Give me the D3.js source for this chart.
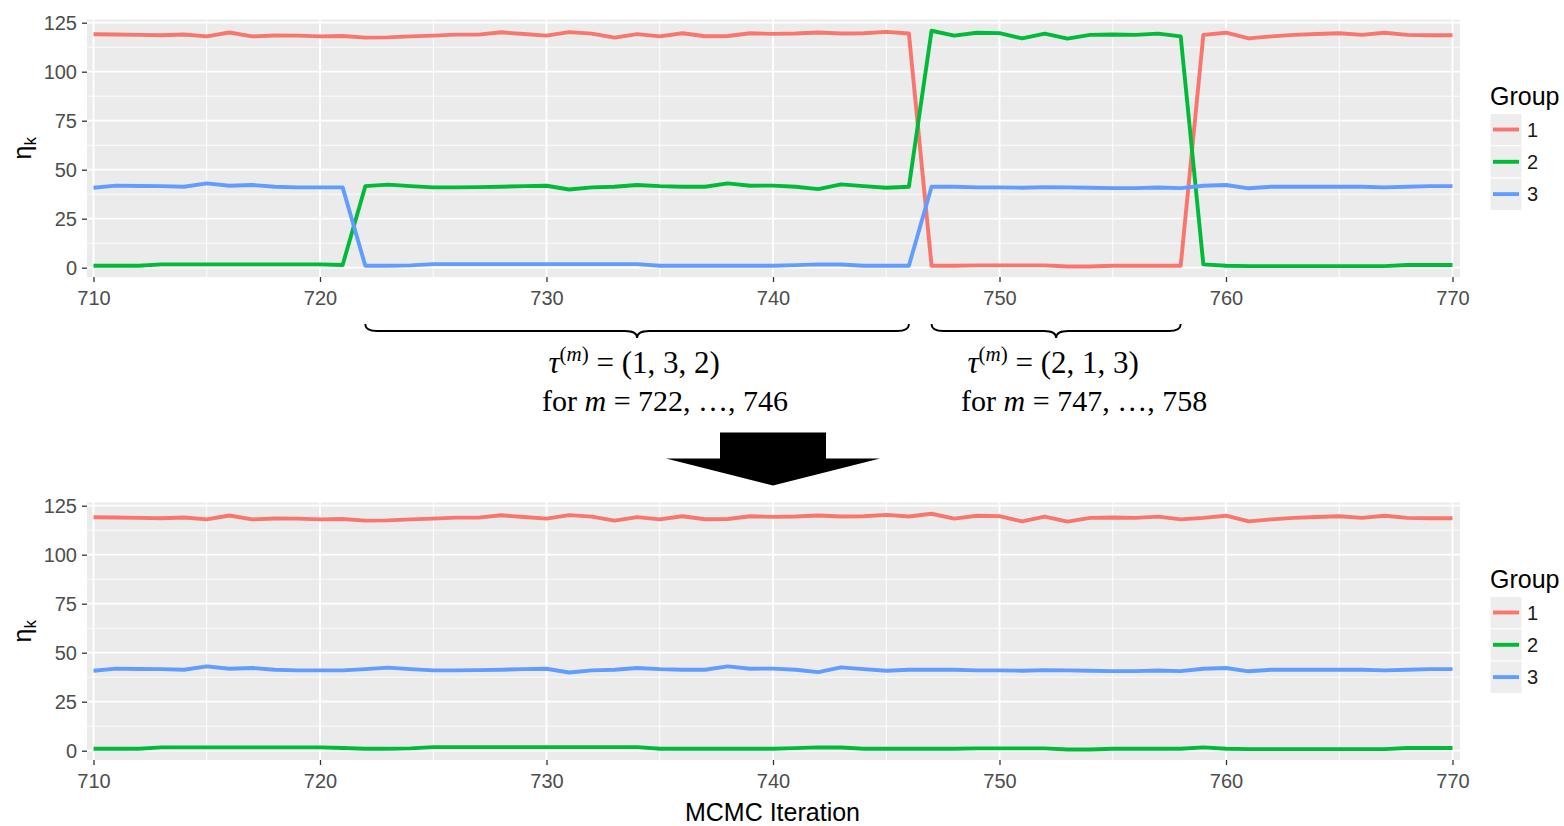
<!DOCTYPE html>
<html>
<head>
<meta charset="utf-8">
<script src="https://cdn.jsdelivr.net/npm/d3@7/dist/d3.min.js"></script>
<style>
  html, body { margin: 0; padding: 0; background: #ffffff; }
  svg { display: block; }
</style>
</head>
<body>
<svg id="chart" width="1564" height="826"></svg>
<script>
// MCMC iterations shown on the x axis
const iterations = d3.range(710, 771);

// Raw sampler output of eta_k for each group label (before relabelling)
const group1Raw = [
  119.1, 119.0, 118.8, 118.6, 119.0, 118.0, 120.0, 118.0, 118.5, 118.4, 118.0, 118.2,
  117.4, 117.5, 118.0, 118.4, 118.9, 118.9, 120.1, 119.2, 118.4, 120.2, 119.4, 117.4,
  119.2, 118.0, 119.6, 118.1, 118.2, 119.6, 119.3, 119.5, 120.0, 119.5, 119.6, 120.3, 119.5,
  1.0, 1.0, 1.2, 1.2, 1.2, 1.2, 0.6, 0.6, 1.0, 1.0, 1.0, 1.0,
  118.8, 119.9, 117.0, 118.0, 118.8, 119.2, 119.6, 118.8, 119.9, 118.8, 118.6, 118.6
];
const group2Raw = [
  1.0, 1.0, 1.0, 1.7, 1.7, 1.7, 1.7, 1.7, 1.7, 1.7, 1.7, 1.4,
  41.6, 42.4, 41.6, 41.0, 41.0, 41.1, 41.3, 41.6, 41.8, 39.9, 41.0, 41.3,
  42.2, 41.6, 41.3, 41.3, 43.0, 41.8, 41.9, 41.3, 40.1, 42.5, 41.6, 40.8, 41.3,
  120.9, 118.4, 119.9, 119.7, 117.0, 119.4, 116.9, 118.8, 119.0, 118.8, 119.4, 118.0,
  1.7, 1.0, 0.8, 0.8, 0.8, 0.8, 0.8, 0.8, 0.8, 1.4, 1.4, 1.4
];
const group3Raw = [
  40.8, 41.9, 41.7, 41.6, 41.3, 43.0, 41.8, 42.2, 41.3, 41.0, 41.0, 41.0,
  1.0, 1.0, 1.2, 1.8, 1.8, 1.8, 1.8, 1.8, 1.8, 1.8, 1.8, 1.8,
  1.8, 1.0, 1.0, 1.0, 1.0, 1.0, 1.0, 1.3, 1.7, 1.6, 1.0, 1.0, 1.0,
  41.3, 41.3, 41.0, 41.0, 40.8, 41.1, 41.0, 40.8, 40.6, 40.6, 40.9, 40.6,
  41.8, 42.2, 40.5, 41.3, 41.3, 41.3, 41.3, 41.3, 41.0, 41.3, 41.6, 41.6
];

// Label permutations tau^(m) found for runs of iterations
const tauFrom = [722, 747];
const tauTo = [746, 758];
const tauPerm = [[1, 3, 2], [2, 1, 3]];

// Axis ticks and legend entries
const xTicks = [710, 720, 730, 740, 750, 760, 770];
const xMinorTicks = [715, 725, 735, 745, 755, 765];
const yTicks = [0, 25, 50, 75, 100, 125];
const yMinorTicks = [12.5, 37.5, 62.5, 87.5, 112.5];
const groupLabels = ["1", "2", "3"];
const groupColors = ["#F8766D", "#00BA38", "#619CFF"];

// Relabelled output: raw label k at iteration m becomes tau^(m)(k)
const rawSeries = [group1Raw, group2Raw, group3Raw];
const relabelled = rawSeries.map(s => s.slice());
iterations.forEach((m, i) => {
  const r = tauFrom.findIndex((f, j) => m >= f && m <= tauTo[j]);
  if (r < 0) return;
  tauPerm[r].forEach((target, k) => { relabelled[target - 1][i] = rawSeries[k][i]; });
});

const svg = d3.select("#chart");
const sans = "'Liberation Sans', Arial, sans-serif";
const serif = "'Liberation Serif', 'Times New Roman', serif";

const panelLeft = 87, panelRight = 1460;
const x = d3.scaleLinear().domain([710, 770]).range([93.5, 1452.5]);

function drawPanel(top, series) {
  const bgTop = top, bgBottom = top + 257.5;
  const y = d3.scaleLinear().domain([0, 125]).range([top + 248.2, top + 3.2]);
  const g = svg.append("g");

  g.append("rect")
    .attr("x", panelLeft).attr("y", bgTop)
    .attr("width", panelRight - panelLeft).attr("height", bgBottom - bgTop)
    .attr("fill", "#EBEBEB");

  // minor then major grid
  g.selectAll(".ymin").data(yMinorTicks).join("line")
    .attr("x1", panelLeft).attr("x2", panelRight)
    .attr("y1", d => y(d)).attr("y2", d => y(d))
    .attr("stroke", "#fff").attr("stroke-width", 0.9);
  g.selectAll(".xmin").data(xMinorTicks).join("line")
    .attr("y1", bgTop).attr("y2", bgBottom)
    .attr("x1", d => x(d)).attr("x2", d => x(d))
    .attr("stroke", "#fff").attr("stroke-width", 0.9);
  g.selectAll(".ymaj").data(yTicks).join("line")
    .attr("x1", panelLeft).attr("x2", panelRight)
    .attr("y1", d => y(d)).attr("y2", d => y(d))
    .attr("stroke", "#fff").attr("stroke-width", 1.8);
  g.selectAll(".xmaj").data(xTicks).join("line")
    .attr("y1", bgTop).attr("y2", bgBottom)
    .attr("x1", d => x(d)).attr("x2", d => x(d))
    .attr("stroke", "#fff").attr("stroke-width", 1.8);

  // series lines
  const line = d3.line().x((d, i) => x(iterations[i])).y(d => y(d));
  series.forEach((s, k) => {
    g.append("path").datum(s)
      .attr("d", line)
      .attr("fill", "none")
      .attr("stroke", groupColors[k])
      .attr("stroke-width", 3.9)
      .attr("stroke-linejoin", "round");
  });

  // axes
  const yAxis = d3.axisLeft(y).tickValues(yTicks).tickSize(5).tickPadding(5);
  const ya = g.append("g").attr("transform", `translate(${panelLeft},0)`).call(yAxis);
  const xAxis = d3.axisBottom(x).tickValues(xTicks).tickSize(5).tickPadding(9).tickFormat(d3.format("d"));
  const xa = g.append("g").attr("transform", `translate(0,${bgBottom})`).call(xAxis);
  [ya, xa].forEach(a => {
    a.select(".domain").remove();
    a.selectAll(".tick line").attr("stroke", "#333").attr("stroke-width", 1.3);
    a.selectAll(".tick text").attr("fill", "#4D4D4D")
      .style("font-family", sans).style("font-size", "20px");
  });

  // y axis title: eta_k
  const yt = g.append("text")
    .attr("transform", `translate(31,${(bgTop + bgBottom) / 2}) rotate(-90)`)
    .attr("text-anchor", "middle")
    .style("font-family", sans).style("font-size", "25px").attr("fill", "#000");
  yt.append("tspan").text("η");
  yt.append("tspan").attr("dy", 5).style("font-size", "17px").text("k");

  // legend
  const lg = g.append("g").attr("transform", `translate(1490,${top})`);
  lg.append("text").attr("x", 0).attr("y", 85)
    .style("font-family", sans).style("font-size", "25px").attr("fill", "#000")
    .text("Group");
  groupLabels.forEach((lab, k) => {
    const ky = 94 + k * 32.3;
    lg.append("rect").attr("x", 0).attr("y", ky).attr("width", 32).attr("height", 32.3)
      .attr("fill", "#EDEDED").attr("stroke", "#fff").attr("stroke-width", 1);
    lg.append("line").attr("x1", 3).attr("x2", 29)
      .attr("y1", ky + 16).attr("y2", ky + 16)
      .attr("stroke", groupColors[k]).attr("stroke-width", 3.9);
    lg.append("text").attr("x", 37).attr("y", ky + 16).attr("dy", "0.35em")
      .style("font-family", sans).style("font-size", "20px").attr("fill", "#1a1a1a")
      .text(lab);
  });
}

drawPanel(19.5, rawSeries);
drawPanel(502.5, relabelled);

// braces marking each relabelled run, with its permutation
function bracePath(x1, x2, y0) {
  const h = 7, q = 12, xm = (x1 + x2) / 2;
  return `M${x1},${y0} Q${x1},${y0 + h} ${x1 + q},${y0 + h} ` +
         `L${xm - q},${y0 + h} Q${xm},${y0 + h} ${xm},${y0 + 2 * h} ` +
         `Q${xm},${y0 + h} ${xm + q},${y0 + h} L${x2 - q},${y0 + h} Q${x2},${y0 + h} ${x2},${y0}`;
}
const ann = svg.append("g");
tauFrom.forEach((f, j) => {
  const x1 = x(f), x2 = x(tauTo[j]), xm = (x1 + x2) / 2;
  ann.append("path").attr("d", bracePath(x1, x2, 324))
    .attr("fill", "none").attr("stroke", "#000").attr("stroke-width", 1.8);

  const t1 = ann.append("text").attr("x", xm - 3).attr("y", 373)
    .attr("text-anchor", "middle")
    .style("font-family", serif).style("font-size", "31px").attr("fill", "#000");
  t1.append("tspan").style("font-style", "italic").text("τ");
  t1.append("tspan").attr("dy", -12).style("font-size", "21px").text("(");
  t1.append("tspan").style("font-size", "21px").style("font-style", "italic").text("m");
  t1.append("tspan").style("font-size", "21px").text(")");
  t1.append("tspan").attr("dy", 12).text(` = (${tauPerm[j].join(", ")})`);

  const t2 = ann.append("text").attr("x", xm + 28).attr("y", 411)
    .attr("text-anchor", "middle")
    .style("font-family", serif).style("font-size", "30px").attr("fill", "#000");
  t2.append("tspan").text("for ");
  t2.append("tspan").style("font-style", "italic").text("m");
  t2.append("tspan").text(` = ${f}, …, ${tauTo[j]}`);
});

// block arrow between the two panels
const ax = x(740);
ann.append("path")
  .attr("d", `M${ax - 53},432.5 L${ax + 53},432.5 L${ax + 53},458.5 L${ax + 107},458.5 ` +
             `L${ax},485.5 L${ax - 107},458.5 L${ax - 53},458.5 Z`)
  .attr("fill", "#000");

// x axis title
svg.append("text").attr("x", 772.5).attr("y", 821)
  .attr("text-anchor", "middle")
  .style("font-family", sans).style("font-size", "25px").attr("fill", "#000")
  .text("MCMC Iteration");
</script>
</body>
</html>
